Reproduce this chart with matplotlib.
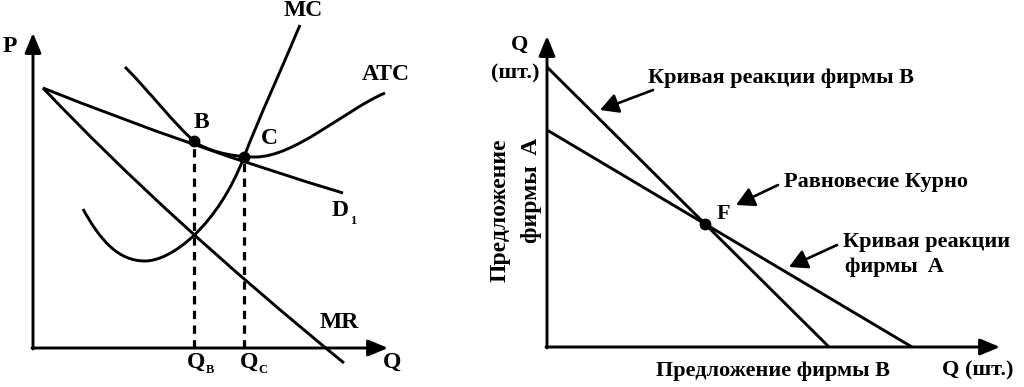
import numpy as np
import matplotlib
matplotlib.use("Agg")
import matplotlib.pyplot as plt
from matplotlib.path import Path
from matplotlib.patches import PathPatch

plt.rcParams['font.family'] = ['Liberation Serif', 'DejaVu Serif']
plt.rcParams['font.weight'] = 'bold'

# ---- left panel: monopolistic competition (units: origin at axes corner)
d1_ctrl = [(10, 260), (160, 200), (310, 155)]          # quadratic bezier
mr_ctrl = [(10, 260), (132, 131), (311, -15)]          # quadratic bezier
atc_ctrl = [(92, 281), (117, 256), (142, 223), (161, 207),
            (172, 198), (197, 191), (222, 191),
            (262, 191), (312, 238), (352, 255)]        # cubic bezier chain
mc_ctrl = [(50, 139), (67, 108), (85, 87), (112, 87),
           (139, 87), (185, 123), (211, 191),
           (225, 228), (249, 280), (267, 323)]         # cubic bezier chain
point_B = (161, 207)
point_C = (211, 191)
left_axis_len = (355, 315)

# ---- right panel: Cournot reaction curves
reaction_B = [(0, 280), (282, 0)]
reaction_A = [(0, 217), (365, 0)]
right_axis_len = (453, 311)

fig = plt.figure(figsize=(10.24, 3.87), dpi=100)
axL = fig.add_axes([0, 0, 470 / 1024, 1])
axL.set_xlim(-33, 437)
axL.set_ylim(-39, 348)
axR = fig.add_axes([480 / 1024, 0, 544 / 1024, 1])
axR.set_xlim(-67, 477)
axR.set_ylim(-40, 347)
for ax in (axL, axR):
    ax.axis('off')

LW = 2.1
FS_L = 17
FS_R = 16


def bezier(ax, pts, order):
    code = Path.CURVE3 if order == 2 else Path.CURVE4
    codes = [Path.MOVETO] + [code] * (len(pts) - 1)
    ax.add_patch(PathPatch(Path(pts, codes), fill=False, lw=LW,
                           edgecolor='black', capstyle='butt'))


def axis_arrows(ax, length):
    style = '-|>,head_length=0.6,head_width=0.25'
    kw = dict(arrowstyle=style, lw=2.1, color='black', mutation_scale=20,
              shrinkA=0, shrinkB=0)
    ax.annotate('', xy=(length[0], 0), xytext=(-1, 0), arrowprops=kw)
    ax.annotate('', xy=(0, length[1]), xytext=(0, -1), arrowprops=kw)


def pointer(ax, tail, tip):
    ax.annotate('', xy=tip, xytext=tail,
                arrowprops=dict(arrowstyle='-|>,head_length=0.55,head_width=0.3',
                                lw=1.9, color='black', mutation_scale=20,
                                shrinkA=0, shrinkB=0))


# left
axis_arrows(axL, left_axis_len)
bezier(axL, d1_ctrl, 2)
bezier(axL, mr_ctrl, 2)
bezier(axL, atc_ctrl, 3)
bezier(axL, mc_ctrl, 3)
for p in (point_B, point_C):
    axL.plot([p[0], p[0]], [0, p[1]], color='black', lw=2.3,
             linestyle=(0, (2.6, 2.0)))
    axL.plot(*p, 'o', color='black', ms=7.5)

txt = dict(ha='center', va='center', fontsize=FS_L, fontweight='bold')
sub = dict(ha='center', va='center', fontsize=9, fontweight='bold')
axL.text(-23, 302, 'P', **txt)
axL.text(270, 337, 'MC', **txt)
axL.text(353, 273, 'ATC', **txt)
axL.text(168, 226, 'B', **txt)
axL.text(236, 209, 'C', **txt)
axL.text(307, 137, 'D', **txt)
axL.text(320, 127, '1', **sub)
axL.text(306, 26, 'MR', **txt)
axL.text(359, -14, 'Q', **txt)
axL.text(163, -14, 'Q', **txt)
axL.text(177, -22, 'B', **sub)
axL.text(216, -14, 'Q', **txt)
axL.text(230, -22, 'C', **sub)

# right
axis_arrows(axR, right_axis_len)
for line in (reaction_B, reaction_A):
    xs, ys = zip(*line)
    axR.plot(xs, ys, color='black', lw=LW, solid_capstyle='butt')

# Cournot equilibrium as the intersection of the two reaction lines
(xb0, yb0), (xb1, yb1) = reaction_B
(xa0, ya0), (xa1, ya1) = reaction_A
kb = (yb1 - yb0) / (xb1 - xb0)
ka = (ya1 - ya0) / (xa1 - xa0)
fx = (ya0 - yb0) / (kb - ka)
fy = yb0 + kb * fx
axR.plot(fx, fy, 'o', color='black', ms=7.5)

rt = dict(ha='center', va='center', fontsize=FS_R, fontweight='bold')
lt = dict(ha='left', va='center', fontsize=FS_R, fontweight='bold')
axR.text(-27, 302, 'Q', **rt)
axR.text(-32, 274, '(шт.)', **rt)
axR.text(101, 269, 'Кривая реакции фирмы B', **lt)
axR.text(237, 165, 'Равновесие Курно', **lt)
axR.text(176, 133, 'F', **rt)
axR.text(296, 105, 'Кривая реакции', **lt)
axR.text(298, 80, 'фирмы  A', **lt)
axR.text(226, -24, 'Предложение фирмы B', **rt)
axR.text(431, -23, 'Q (шт.)', **rt)
axR.text(-47, 209, 'Предложение', rotation=90, ha='center', va='top',
         fontsize=17, fontweight='bold')
axR.text(-16, 209, 'фирмы  A', rotation=90, ha='center', va='top',
         fontsize=17, fontweight='bold')

pointer(axR, (106, 257), (53, 237))
pointer(axR, (231, 162), (189, 142))
pointer(axR, (290, 102), (242, 80))

fig.savefig('out.png', dpi=100)
